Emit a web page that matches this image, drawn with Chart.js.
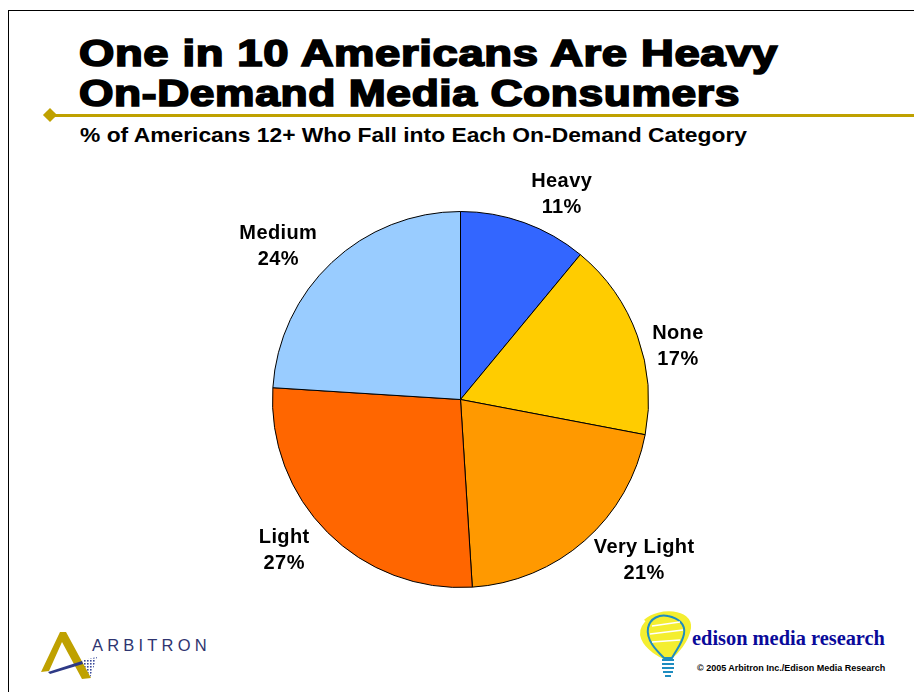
<!DOCTYPE html>
<html>
<head>
<meta charset="utf-8">
<script src="https://cdn.jsdelivr.net/npm/chart.js@4.4.1/dist/chart.umd.min.js"></script>
<style>
  html, body { margin: 0; padding: 0; background: #fff; }
  #page { position: relative; width: 914px; height: 692px; overflow: hidden; background: #fff;
          font-family: "Liberation Sans", Arial, Helvetica, sans-serif; }
  #frame { position: absolute; left: 8px; top: 10px; width: 1000px; height: 800px;
           border-left: 1.5px solid #000; border-top: 1.5px solid #000; }
  .fit { transform-origin: 0 0; }
  .title { position: absolute; left: 79px; font-weight: bold; font-size: 37px; color: #000;
           white-space: nowrap; -webkit-text-stroke: 1.7px #000; letter-spacing: 0.5px; line-height: 1; }
  #rule { position: absolute; left: 50px; top: 114px; width: 900px; height: 3px; background: #BFA100; }
  #diamond { position: absolute; left: 45px; top: 110px; width: 10px; height: 10px; background: #BFA100;
             transform: rotate(45deg); }
  #subtitle { position: absolute; left: 80px; top: 124px; font-weight: bold; font-size: 21px; color: #000;
              white-space: nowrap; line-height: 1; }
  #chart { position: absolute; left: 0; top: 0; }
  #arbText { position: absolute; left: 92px; top: 637px; font-size: 16.5px; letter-spacing: 4.2px; color: #2E3470;
             font-family: "Liberation Sans", Arial, sans-serif; line-height: 1; }
  #edisonText { position: absolute; left: 692px; top: 628px; font-family: "Liberation Serif", "Times New Roman", serif;
                font-weight: bold; font-size: 20.4px; color: #0A0A9A; white-space: nowrap; line-height: 1; }
  #copy { position: absolute; left: 697px; top: 664px; font-weight: bold; font-size: 9px; color: #000;
          white-space: nowrap; line-height: 1; }
</style>
</head>
<body>
<div id="page">
  <div id="frame"></div>
  <div class="title fit" data-w="699" style="top:35px">One in 10 Americans Are Heavy</div>
  <div class="title fit" data-w="661" style="top:75px">On-Demand Media Consumers</div>
  <div id="rule"></div>
  <div id="diamond"></div>
  <div id="subtitle" class="fit" data-w="667">% of Americans 12+ Who Fall into Each On-Demand Category</div>

  <!-- Arbitron mark -->
  <svg style="position:absolute;left:0;top:0" width="914" height="692">
    <defs>
      <pattern id="dots" width="3" height="3" patternUnits="userSpaceOnUse">
        <rect width="1.6" height="1.6" fill="#3A4A9A"/>
      </pattern>
    </defs>
    <polygon points="83,660 97,657 90,678 80,678" fill="url(#dots)"/>
    <polygon points="41,672 60,632 66,632 91,678 82,679 62,642 49,671" fill="#BFA100"/>
    <polygon points="48,672 82,661 83,664 50,674" fill="#2E3A86"/>
    <!-- Edison bulb -->
    <g>
      <path d="M646,622 C660,610 690,612 688,628 C686,640 676,652 668,658 C660,654 648,648 644,638 C640,628 650,618 662,616 C676,615 686,622 684,632 C680,642 668,650 660,650 C650,646 645,634 652,624"
            fill="#F4EE30" stroke="#F4EE30" stroke-width="6" stroke-linejoin="round"/>
      <path d="M664,658 C656,650 646,640 648,628 C650,618 660,614 668,616 C678,618 686,624 684,634 C682,644 676,650 672,658 Z"
            fill="none" stroke="#1E8CC0" stroke-width="2"/>
      <path d="M652,626 L680,622 M650,634 L683,630 M652,642 L680,640" stroke="#ffffff" stroke-width="1.3" fill="none"/>
      <path d="M662,660 L674,660 M662,664 L674,664 M662,668 L674,668 M663,672 L673,672 M665,676 L671,676"
            stroke="#1E8CC0" stroke-width="2" fill="none"/>
    </g>
  </svg>
  <div id="arbText">ARBITRON</div>
  <div id="edisonText">edison media research</div>
  <div id="copy">© 2005 Arbitron Inc./Edison Media Research</div>

  <canvas id="chart" width="914" height="692"></canvas>
</div>

<script>
// Stretch heading lines horizontally to their set widths
document.querySelectorAll('.fit').forEach(el => {
  const w = el.getBoundingClientRect().width;
  el.style.transform = 'scaleX(' + (parseFloat(el.dataset.w) / w) + ')';
});

// Share of Americans 12+ by on-demand media usage category
const categories = ['Heavy', 'None', 'Very Light', 'Light', 'Medium'];
const shares = [11, 17, 21, 27, 24];
const sliceColors = ['#3366FF', '#FFCC00', '#FF9900', '#FF6600', '#99CCFF'];

// Where each category label sits around the pie: angle nudge (degrees) and distance as a multiple of the radius
const labelNudgeDeg = [6.5, 6.2, -7.3, 4.4, -6.8];
const labelDistance = [1.215, 1.19, 1.30, 1.235, 1.265];

const outsideLabels = {
  id: 'outsideLabels',
  afterDatasetsDraw(chart) {
    const ctx = chart.ctx;
    const meta = chart.getDatasetMeta(0);
    ctx.save();
    ctx.font = 'bold 20px "Liberation Sans", Arial, sans-serif';
    if ('letterSpacing' in ctx) ctx.letterSpacing = '0.4px';
    ctx.fillStyle = '#000';
    ctx.textAlign = 'center';
    ctx.textBaseline = 'middle';
    meta.data.forEach((arc, i) => {
      const p = arc.getProps(['x', 'y', 'startAngle', 'endAngle', 'outerRadius'], true);
      const mid = (p.startAngle + p.endAngle) / 2 + labelNudgeDeg[i] * Math.PI / 180;
      const d = p.outerRadius * labelDistance[i];
      const cx = p.x + Math.cos(mid) * d;
      const cy = p.y + Math.sin(mid) * d;
      ctx.fillText(categories[i], cx, cy - 13);
      ctx.fillText(shares[i] + '%', cx, cy + 13);
    });
    ctx.restore();
  }
};

new Chart(document.getElementById('chart'), {
  type: 'pie',
  data: {
    labels: categories,
    datasets: [{
      data: shares,
      backgroundColor: sliceColors,
      borderColor: '#000',
      borderWidth: 1,
      borderAlign: 'center'
    }]
  },
  options: {
    responsive: false,
    animation: false,
    devicePixelRatio: 1,
    layout: { padding: { left: 272, right: 265, top: 211, bottom: 104 } },
    plugins: {
      legend: { display: false },
      tooltip: { enabled: false }
    }
  },
  plugins: [outsideLabels]
});
</script>
</body>
</html>
